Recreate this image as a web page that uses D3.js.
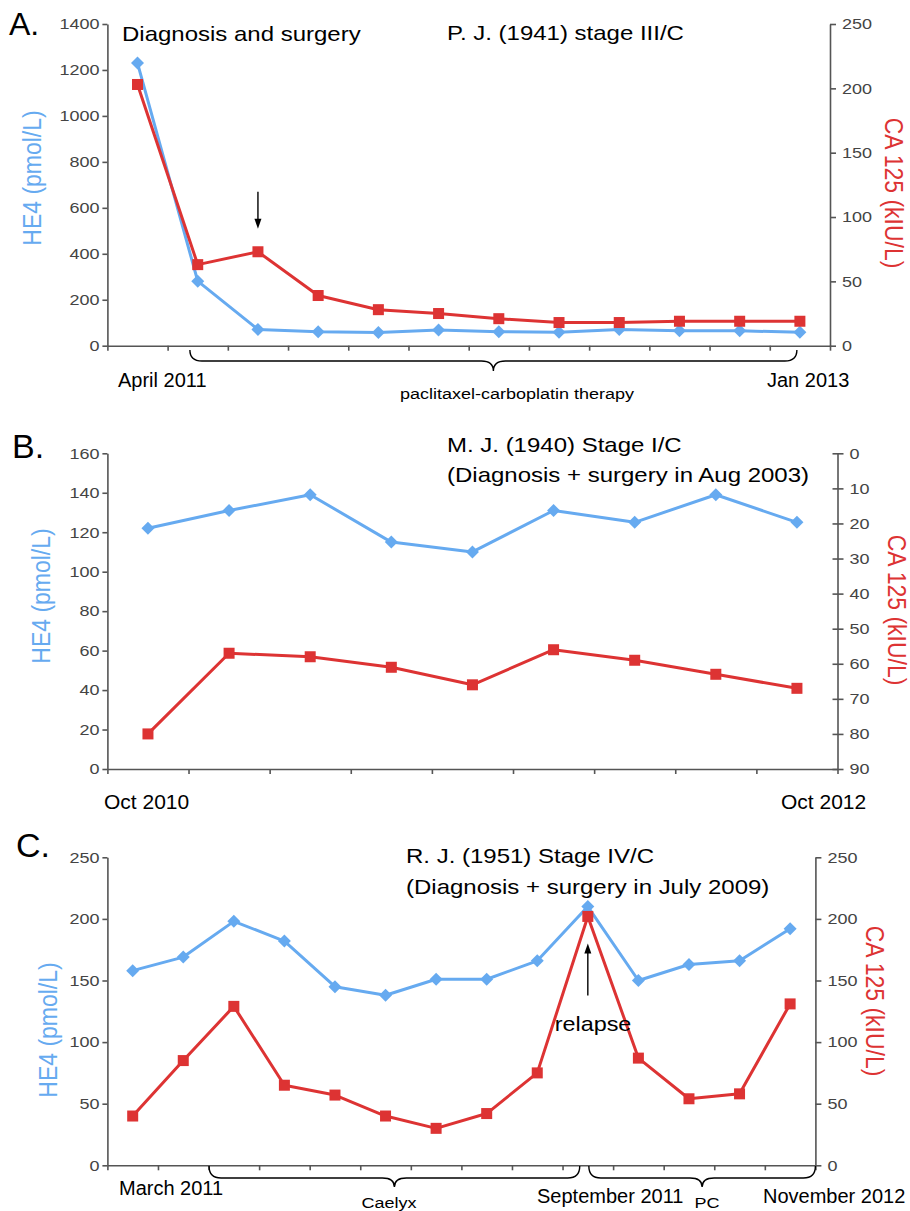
<!DOCTYPE html>
<html>
<head>
<meta charset="utf-8">
<script src="https://cdn.jsdelivr.net/npm/d3@7"></script>
<style>
  body { margin: 0; background: #fff; }
  svg { display: block; background: #fff; font-family: "Liberation Sans", Arial, sans-serif; }
</style>
</head>
<body>
<svg width="910" height="1211"></svg>
<script>
// Panel A - P. J. (1941) stage III/C
const visitsA = ["1", "2", "3", "4", "5", "6", "7", "8", "9", "10", "11", "12"];
const he4A = [1230, 281, 71, 61, 57, 68, 61, 59, 71, 65, 65, 58];
const ca125A = [203, 63, 73, 39, 28, 25, 21, 18, 18, 19, 19, 19];
const he4TicksA = [0, 200, 400, 600, 800, 1000, 1200, 1400];
const ca125TicksA = [0, 50, 100, 150, 200, 250];

// Panel B - M. J. (1940) Stage I/C (CA 125 axis runs downward)
const visitsB = ["1", "2", "3", "4", "5", "6", "7", "8", "9"];
const he4B = [122, 131, 139, 115, 110, 131, 125, 139, 125];
const ca125B = [80, 57, 58, 61, 66, 56, 59, 63, 67];
const he4TicksB = [0, 20, 40, 60, 80, 100, 120, 140, 160];
const ca125TicksB = [0, 10, 20, 30, 40, 50, 60, 70, 80, 90];

// Panel C - R. J. (1951) Stage IV/C
const visitsC = ["1", "2", "3", "4", "5", "6", "7", "8", "9", "10", "11", "12", "13", "14"];
const he4C = [158, 169, 198, 182, 145, 138, 151, 151, 166, 210, 150, 163, 166, 192];
const ca125C = [40, 85, 129, 65, 57, 40, 30, 42, 75, 202, 87, 54, 58, 131];
const he4TicksC = [0, 50, 100, 150, 200, 250];
const ca125TicksC = [0, 50, 100, 150, 200, 250];

const blue = "#66aaf0";
const red = "#dd3333";
const axisGrey = "#555";

const svg = d3.select("svg");

// text helper: sx stretches glyphs horizontally like the source figure
const addText = (x, y, str, o = {}) => {
  const sx = o.sx || 1;
  let tf = `translate(${x},${y}) scale(${sx},1)`;
  if (o.rotate) tf += ` rotate(${o.rotate})`;
  return svg.append("text")
    .attr("transform", tf)
    .attr("font-size", o.size || 20)
    .attr("fill", o.fill || "#000")
    .attr("text-anchor", o.anchor || "start")
    .text(str);
};

const styleAxis = (g, textX, anchor) => {
  g.attr("font-family", null).attr("font-size", null);
  g.select(".domain").attr("stroke", axisGrey).attr("stroke-width", 1.6);
  g.selectAll(".tick line").attr("stroke", axisGrey).attr("stroke-width", 1.6);
  g.selectAll(".tick text")
    .attr("fill", "#444")
    .attr("font-size", 15)
    .attr("text-anchor", anchor)
    .attr("x", textX / 1.2)
    .attr("transform", "scale(1.2,1)");
};

const drawPanel = (p) => {
  const g = svg.append("g");
  const n = p.visits.length;

  const xIdx = d3.scaleLinear().domain([0, n]).range([p.left, p.right]);
  const xBand = d3.scaleBand().domain(p.visits).range([p.left, p.right]);
  const xMid = (d) => xBand(d) + xBand.bandwidth() / 2;

  const yL = d3.scaleLinear()
    .domain([0, d3.max(p.leftTicks)])
    .range([p.bottom, p.top]);
  const yR = d3.scaleLinear()
    .domain(p.rightDomain)
    .range([p.bottom, p.top]);

  // axes
  const gx = g.append("g")
    .attr("transform", `translate(0, ${p.bottom})`)
    .call(d3.axisBottom(xIdx).tickValues(d3.range(n + 1)).tickFormat("").tickSize(5).tickSizeOuter(0));
  styleAxis(gx, 0, "middle");

  const gl = g.append("g")
    .attr("transform", `translate(${p.left}, 0)`)
    .call(d3.axisLeft(yL).tickValues(p.leftTicks).tickFormat(d3.format("d")).tickSize(5).tickSizeOuter(0));
  styleAxis(gl, -8, "end");

  const gr = g.append("g")
    .attr("transform", `translate(${p.right}, 0)`)
    .call(d3.axisRight(yR).tickValues(p.rightTicks).tickFormat(d3.format("d")).tickSize(6).tickSizeOuter(0));
  styleAxis(gr, 12, "start");
  if (p.crossTicks) gr.selectAll(".tick line").attr("x1", -5);

  // series
  const he4 = p.visits.map((v, i) => ({ v, val: p.he4[i] }));
  const ca = p.visits.map((v, i) => ({ v, val: p.ca125[i] }));

  const lineL = d3.line().x((d) => xMid(d.v)).y((d) => yL(d.val));
  const lineR = d3.line().x((d) => xMid(d.v)).y((d) => yR(d.val));

  g.append("path").datum(he4)
    .attr("fill", "none").attr("stroke", blue).attr("stroke-width", 3)
    .attr("stroke-linejoin", "round").attr("d", lineL);
  g.selectAll(".dia").data(he4).join("path")
    .attr("fill", blue)
    .attr("transform", (d) => `translate(${xMid(d.v)}, ${yL(d.val)})`)
    .attr("d", "M0,-6.5L6.5,0L0,6.5L-6.5,0Z");

  g.append("path").datum(ca)
    .attr("fill", "none").attr("stroke", red).attr("stroke-width", 3)
    .attr("stroke-linejoin", "round").attr("d", lineR);
  g.selectAll(".sq").data(ca).join("rect")
    .attr("fill", red)
    .attr("x", (d) => xMid(d.v) - 5.5)
    .attr("y", (d) => yR(d.val) - 5.5)
    .attr("width", 11).attr("height", 11);

  return { xIdx, xMid, yL, yR };
};

const brace = (x0, x1, yTop, yLine, yTip) => {
  const m = (x0 + x1) / 2;
  const r = 12;
  const d = `M${x0},${yTop} Q${x0},${yLine} ${x0 + r},${yLine} L${m - r},${yLine} ` +
    `Q${m},${yLine} ${m},${yTip} Q${m},${yLine} ${m + r},${yLine} ` +
    `L${x1 - r},${yLine} Q${x1},${yLine} ${x1},${yTop}`;
  svg.append("path").attr("d", d).attr("fill", "none")
    .attr("stroke", "#000").attr("stroke-width", 1.4);
};

const arrow = (x, yFrom, yTo) => {
  const dir = yTo > yFrom ? 1 : -1;
  svg.append("line")
    .attr("x1", x).attr("x2", x)
    .attr("y1", yFrom).attr("y2", yTo - dir * 8)
    .attr("stroke", "#000").attr("stroke-width", 1.4);
  svg.append("path")
    .attr("d", `M${x},${yTo} L${x - 3.5},${yTo - dir * 10} L${x + 3.5},${yTo - dir * 10} Z`)
    .attr("fill", "#000");
};

const axisLabels = (lx, ly, rx, ry) => {
  addText(lx, ly, "HE4 (pmol/L)", { size: 23, fill: blue, anchor: "middle", rotate: -90, sx: 1.15 });
  addText(rx, ry, "CA 125 (kIU/L)", { size: 23, fill: red, anchor: "middle", rotate: 90, sx: 1.15 });
};

// ---- Panel A ----
const A = drawPanel({
  visits: visitsA, he4: he4A, ca125: ca125A,
  leftTicks: he4TicksA, rightTicks: ca125TicksA, rightDomain: [0, 250],
  left: 107.4, right: 830, top: 24, bottom: 345.7
});
addText(9, 35, "A.", { size: 32 });
addText(122, 41, "Diagnosis and surgery", { size: 20, sx: 1.2 });
addText(447, 40, "P. J. (1941) stage III/C", { size: 20, sx: 1.2 });
axisLabels(41, 178, 885, 193);
arrow(A.xMid(visitsA[2]), A.yR(ca125A[2]) - 60, A.yR(ca125A[2]) - 23);
brace(A.xIdx(1.37), A.xIdx(11.45), 350, 361, 371);
addText(118, 387, "April 2011", { size: 20 });
addText(767, 387, "Jan 2013", { size: 20 });
addText(517, 399, "paclitaxel-carboplatin therapy", { size: 15, sx: 1.2, anchor: "middle" });

// ---- Panel B ----
const B = drawPanel({
  visits: visitsB, he4: he4B, ca125: ca125B,
  leftTicks: he4TicksB, rightTicks: ca125TicksB, rightDomain: [90, 0],
  left: 107.4, right: 837.5, top: 453.3, bottom: 769, crossTicks: true
});
addText(12, 458, "B.", { size: 34 });
addText(447, 452, "M. J. (1940) Stage I/C", { size: 20, sx: 1.2 });
addText(447, 482, "(Diagnosis + surgery in Aug 2003)", { size: 20, sx: 1.2 });
axisLabels(50, 596, 888, 610);
addText(104, 809, "Oct 2010", { size: 20, sx: 1.05 });
addText(781, 809, "Oct 2012", { size: 20, sx: 1.05 });

// ---- Panel C ----
const C = drawPanel({
  visits: visitsC, he4: he4C, ca125: ca125C,
  leftTicks: he4TicksC, rightTicks: ca125TicksC, rightDomain: [0, 250],
  left: 107.4, right: 815.4, top: 857.3, bottom: 1165.3
});
addText(16, 857, "C.", { size: 34 });
addText(406, 863, "R. J. (1951) Stage IV/C", { size: 20, sx: 1.2 });
addText(406, 894, "(Diagnosis + surgery in July 2009)", { size: 20, sx: 1.2 });
axisLabels(57, 1030, 866, 1001);
arrow(C.xMid(visitsC[9]), C.yR(ca125C[9]) + 79, C.yR(ca125C[9]) + 27);
addText(593, 1031, "relapse", { size: 20, sx: 1.17, anchor: "middle" });
brace(C.xIdx(2.01), C.xIdx(9.34), 1166, 1178, 1187);
brace(C.xIdx(9.52), C.xIdx(14), 1166, 1178, 1187);
addText(119, 1195, "March 2011", { size: 20 });
addText(537, 1203, "September 2011", { size: 20 });
addText(763, 1203, "November 2012", { size: 20 });
addText(389, 1208, "Caelyx", { size: 15, sx: 1.2, anchor: "middle" });
addText(707, 1208, "PC", { size: 15, sx: 1.2, anchor: "middle" });
</script>
</body>
</html>
